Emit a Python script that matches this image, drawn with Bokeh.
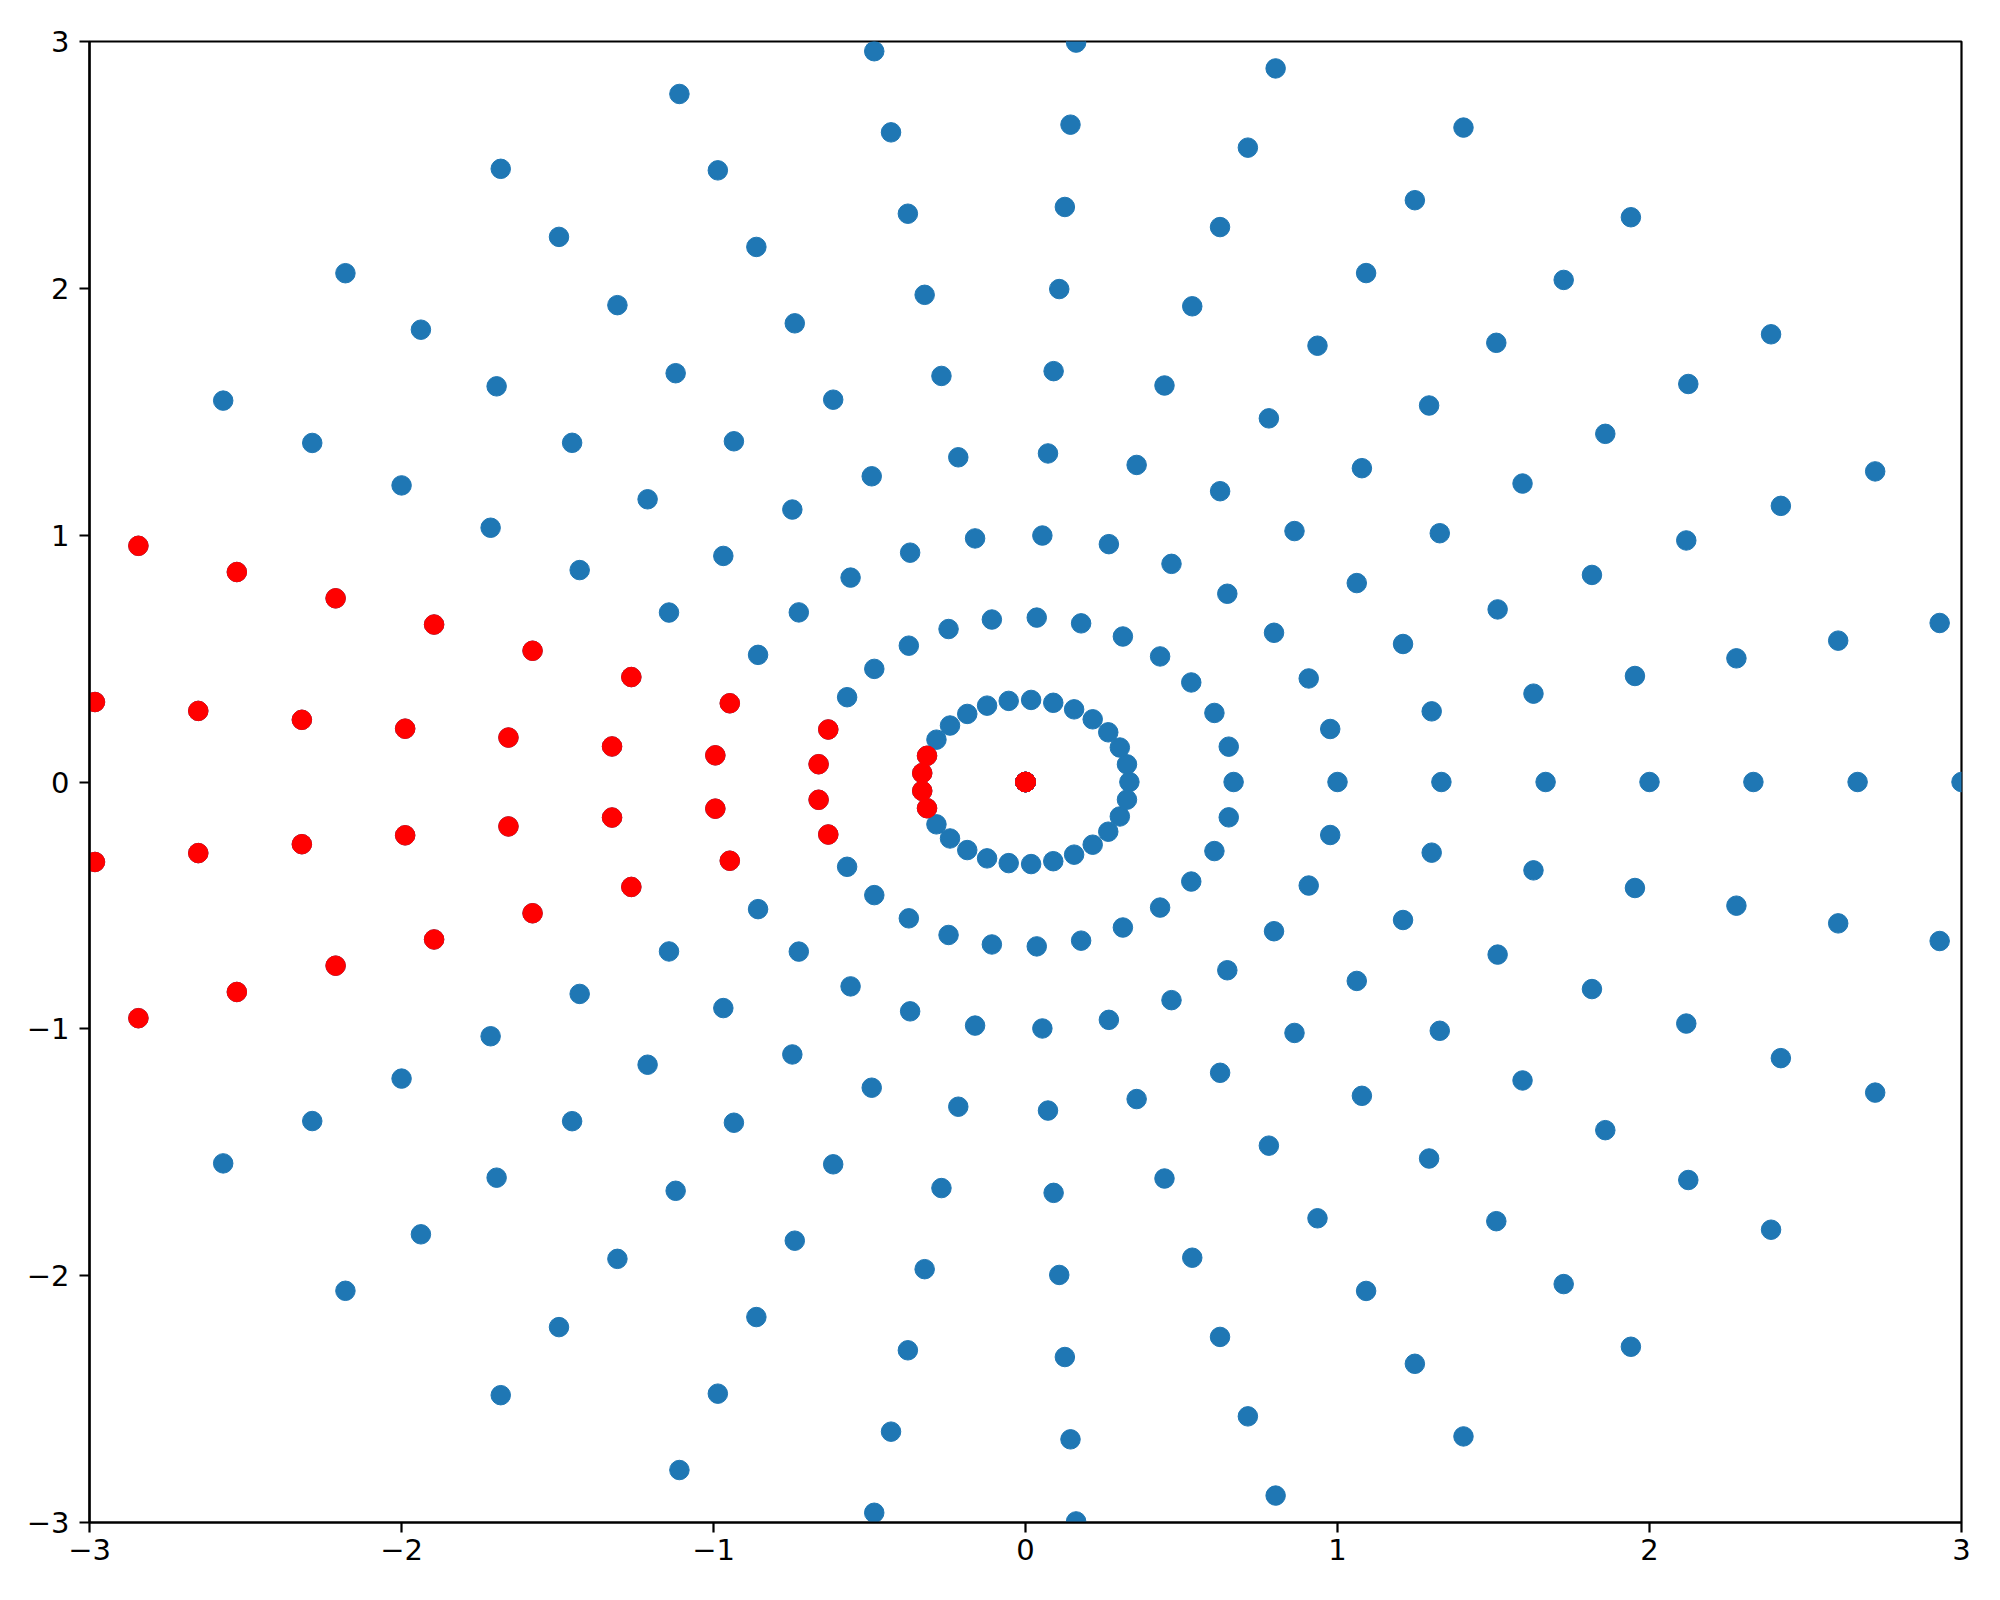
import math
from bokeh.plotting import figure
from bokeh.models import Range1d, FixedTicker
from bokeh.embed import file_html
from bokeh.resources import INLINE

# Polar grid: ring radii and the 29 angles per ring
radii = [0.0, 0.333, 0.667, 1.0, 1.333, 1.667, 2.0, 2.333, 2.667, 3.0]
angles_deg = [0.0, 12.4, 24.8, 37.2, 49.7, 62.1, 74.5, 86.9, 99.3, 111.7,
              124.1, 136.6, 149.0, 161.4, 173.8, 186.2, 198.6, 211.0, 223.4,
              235.9, 248.3, 260.7, 273.1, 285.5, 297.9, 310.3, 322.8, 335.2, 347.6]
# Highlighted (red) angles
red_angles_deg = [161.4, 173.8, 186.2, 198.6]

tick_values = [-3, -2, -1, 0, 1, 2, 3]
tick_labels = ["−3", "−2", "−1", "0", "1", "2", "3"]

def polar_to_xy(rs, angs):
    xs, ys = [], []
    for r in rs:
        for a in angs:
            t = math.radians(a)
            xs.append(r * math.cos(t))
            ys.append(r * math.sin(t))
    return xs, ys

bx, by = polar_to_xy(radii, angles_deg)
rx, ry = polar_to_xy(radii, red_angles_deg)

p = figure(
    frame_width=1872, frame_height=1481,
    min_border_left=89, min_border_right=31, min_border_top=41, min_border_bottom=62,
    x_range=Range1d(-3, 3), y_range=Range1d(-3, 3),
    output_backend="svg", toolbar_location=None,
)
p.grid.visible = False
p.outline_line_color = "black"
p.outline_line_width = 2.2
p.background_fill_color = "white"
p.border_fill_color = "white"

p.scatter(bx, by, size=19.5, color="#1f77b4")
p.scatter(rx, ry, size=19.5, color="red")

for ax in (p.xaxis[0], p.yaxis[0]):
    ax.ticker = FixedTicker(ticks=tick_values)
    ax.major_label_overrides = {v: l for v, l in zip(tick_values, tick_labels)}
    ax.major_label_text_font = "DejaVu Sans"
    ax.major_label_text_font_size = "29px"
    ax.major_label_text_color = "black"
    ax.major_tick_in = 0
    ax.major_tick_out = 10
    ax.major_tick_line_width = 2.2
    ax.major_tick_line_color = "black"
    ax.minor_tick_line_color = None
    ax.axis_line_width = 2.2
    ax.axis_line_color = "black"
p.xaxis[0].major_label_standoff = 6
p.yaxis[0].major_label_standoff = 10

open("out.html", "w").write(file_html(p, INLINE))
